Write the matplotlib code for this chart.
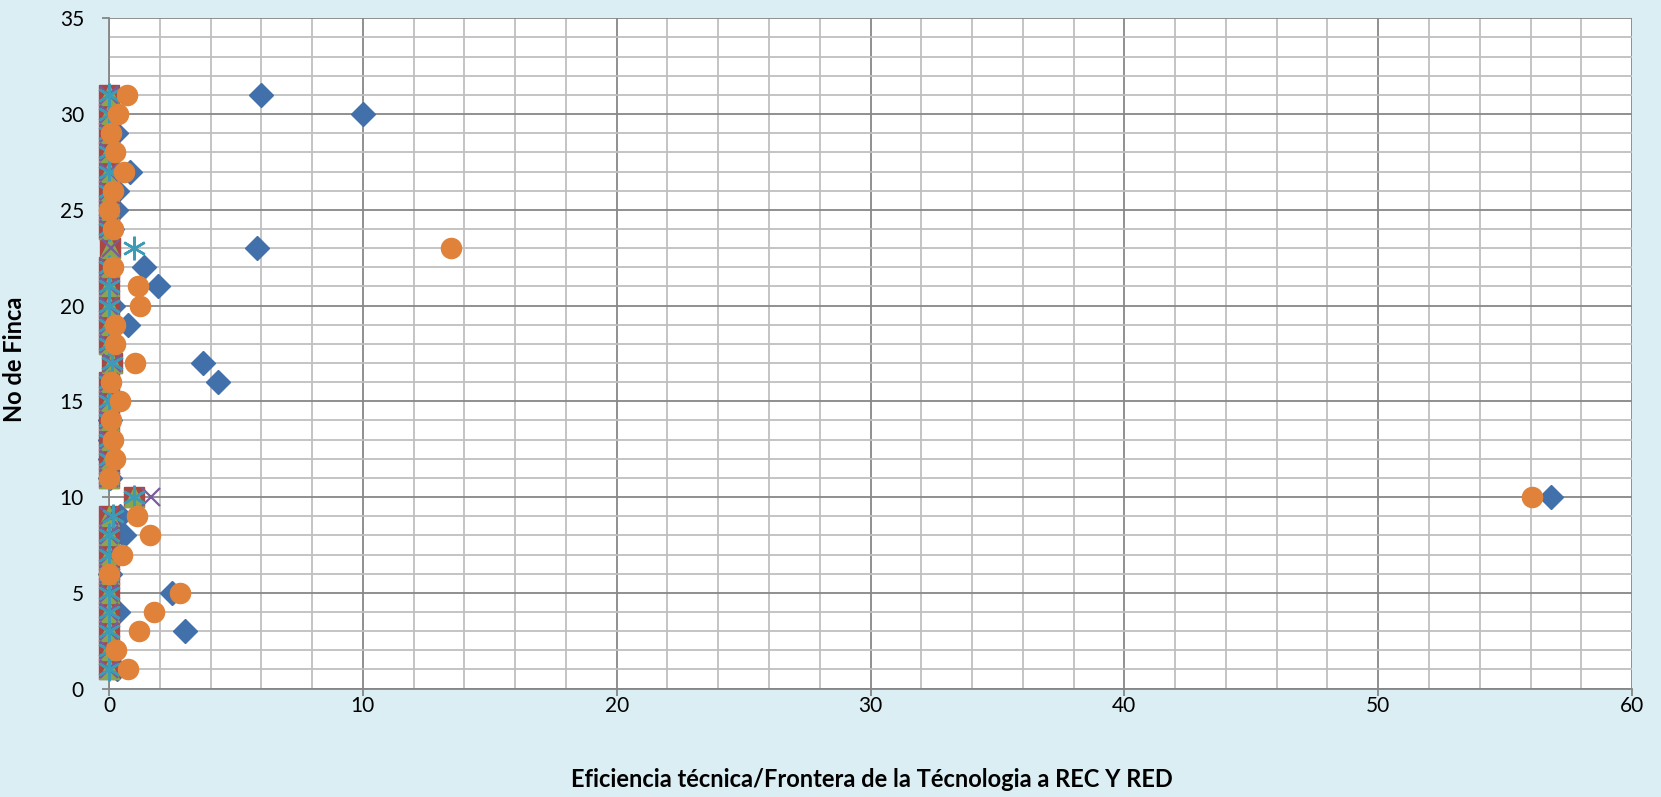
import matplotlib
matplotlib.use("Agg")
import matplotlib.pyplot as plt
from matplotlib.ticker import MultipleLocator
import numpy as np

plt.rcParams['font.family'] = ['Lato', 'DejaVu Sans']

fincas = list(range(1, 32))

# Serie 1 (rombos azules)
serie_rombo = [0.3, 0.1, 3.0, 0.37, 2.47, 0.05, 0.2, 0.6, 0.43, 56.8,
               0.05, 0.05, 0.05, 0.05, 0.1, 4.3, 3.71, 0.1, 0.76, 0.15,
               1.92, 1.39, 5.85, 0.1, 0.28, 0.3, 0.83, 0.1, 0.28, 10.0, 5.97]
# Serie 2 (cuadrados rojos)
serie_cuadro = [0.0, 0.0, 0.0, 0.0, 0.0, 0.0, 0.0, 0.0, 0.0, 0.98,
                0.0, 0.0, 0.0, 0.0, 0.0, 0.0, 0.1, 0.0, 0.0, 0.0,
                0.0, 0.0, 0.05, 0.0, 0.0, 0.0, 0.0, 0.0, 0.0, 0.0, 0.0]
# Serie 3 (triángulos verdes)
serie_triang = [0.0, 0.0, 0.0, 0.0, 0.0, 0.0, 0.0, 0.0, 0.0, 0.98,
                0.0, 0.0, 0.0, 0.0, 0.0, 0.0, 0.1, 0.0, 0.0, 0.0,
                0.0, 0.0, 0.05, 0.0, 0.0, 0.0, 0.0, 0.0, 0.0, 0.0, 0.0]
# Serie 4 (X moradas)
serie_x = [0.0, 0.0, 0.0, 0.0, 0.0, 0.0, 0.0, 0.0, 0.0, 1.65,
           0.0, 0.0, 0.0, 0.0, 0.0, 0.0, 0.1, 0.0, 0.0, 0.0,
           0.0, 0.0, 0.08, 0.0, 0.0, 0.0, 0.0, 0.0, 0.0, 0.0, 0.0]
# Serie 5 (asteriscos turquesa)
serie_ast = [0.0, 0.0, 0.0, 0.0, 0.0, 0.0, 0.0, 0.0, 0.15, 0.98,
             0.0, 0.0, 0.0, 0.0, 0.0, 0.0, 0.1, 0.0, 0.0, 0.0,
             0.0, 0.0, 1.0, 0.0, 0.0, 0.0, 0.0, 0.0, 0.0, 0.0, 0.0]
# Serie 6 (círculos naranjas)
serie_circ = [0.74, 0.28, 1.18, 1.78, 2.8, 0.0, 0.52, 1.61, 1.09, 56.07,
              0.0, 0.24, 0.17, 0.08, 0.43, 0.08, 1.02, 0.24, 0.24, 1.22,
              1.15, 0.17, 13.46, 0.17, 0.0, 0.17, 0.6, 0.24, 0.08, 0.37, 0.7]

x_label = "Eficiencia técnica/Frontera de la Técnologia a REC Y RED"
y_label = "No de Finca"

bg = "#DBEEF4"
fig = plt.figure(figsize=(16.61, 7.97), dpi=100, facecolor=bg)
ax = fig.add_axes([0.0656, 0.136, 0.9170, 0.841])
ax.set_facecolor("white")

common = dict(linestyle='none', clip_on=False)
ax.plot(serie_rombo, fincas, marker='D', ms=12,
        color="#4170AA", mec="#4170AA", zorder=3, **common)
ax.plot(serie_cuadro, fincas, marker='s', ms=14.5,
        color="#AA4643", mec="#AA4643", zorder=4, **common)
ax.plot(serie_triang, fincas, marker='^', ms=14,
        color="#89A54E", mec="#89A54E", zorder=5, **common)
ax.plot(serie_x, fincas, marker='x', ms=13, mew=1.6,
        color="#7A5C9E", zorder=6, **common)
ax.plot(serie_ast, fincas, marker=(6, 2, 0), ms=17, mew=1.8,
        color="#3E9BB5", zorder=7, **common)
ax.plot(serie_circ, fincas, marker='o', ms=14.5,
        color="#E0823A", mec="#E0823A", zorder=8, **common)

ax.set_xlim(0, 60)
ax.set_ylim(0, 35)
ax.xaxis.set_major_locator(MultipleLocator(10))
ax.xaxis.set_minor_locator(MultipleLocator(2))
ax.yaxis.set_major_locator(MultipleLocator(5))
ax.yaxis.set_minor_locator(MultipleLocator(1))

ax.grid(which='major', color="#878787", lw=1.3, zorder=0)
ax.grid(which='minor', color="#BFBFBF", lw=1.3, zorder=0)
ax.set_axisbelow(True)

for s in ['left', 'bottom']:
    ax.spines[s].set_color("#868686")
    ax.spines[s].set_linewidth(1.3)
for s in ['top', 'right']:
    ax.spines[s].set_visible(False)

ax.tick_params(which='major', length=5, width=1.3, color="#868686",
               labelsize=15, labelcolor="black")
ax.tick_params(axis='y', which='major', pad=13)
ax.tick_params(axis='x', which='major', pad=0.5)
ax.tick_params(which='minor', length=0)

fig.text(0.5249, 0.0217, x_label, fontsize=17, fontweight='bold',
         ha='center', va='center')
fig.text(15 / 1661, 1 - 359 / 797, y_label, fontsize=17, fontweight='bold',
         rotation=90, ha='center', va='center')

fig.savefig("out.png", dpi=100, facecolor=bg)
